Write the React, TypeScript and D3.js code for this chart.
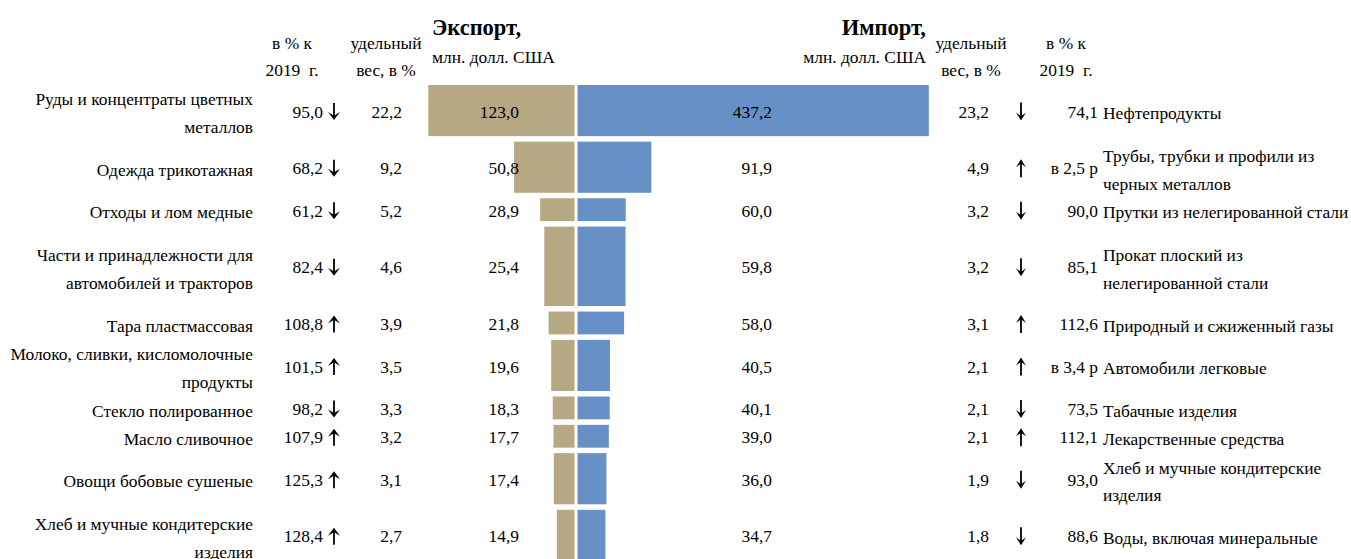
import { useEffect, useRef } from "react"
import * as d3 from "d3"

const exportNames = [
  "Руды и концентраты цветных\nметаллов",
  "Одежда трикотажная",
  "Отходы и лом медные",
  "Части и принадлежности для\nавтомобилей и тракторов",
  "Тара пластмассовая",
  "Молоко, сливки, кисломолочные\nпродукты",
  "Стекло полированное",
  "Масло сливочное",
  "Овощи бобовые сушеные",
  "Хлеб и мучные кондитерские\nизделия",
]
const exportPct = ["95,0", "68,2", "61,2", "82,4", "108,8", "101,5", "98,2", "107,9", "125,3", "128,4"]
const exportTrend = ["down", "down", "down", "down", "up", "up", "down", "up", "up", "up"]
const exportShare = [22.2, 9.2, 5.2, 4.6, 3.9, 3.5, 3.3, 3.2, 3.1, 2.7]
const exportValue = [123.0, 50.8, 28.9, 25.4, 21.8, 19.6, 18.3, 17.7, 17.4, 14.9]

const importNames = [
  "Нефтепродукты",
  "Трубы, трубки и профили из\nчерных металлов",
  "Прутки из нелегированной стали",
  "Прокат плоский из\nнелегированной стали",
  "Природный и сжиженный газы",
  "Автомобили легковые",
  "Табачные изделия",
  "Лекарственные средства",
  "Хлеб и мучные кондитерские\nизделия",
  "Воды, включая минеральные",
]
const importValue = [437.2, 91.9, 60.0, 59.8, 58.0, 40.5, 40.1, 39.0, 36.0, 34.7]
const importShare = [23.2, 4.9, 3.2, 3.2, 3.1, 2.1, 2.1, 2.1, 1.9, 1.8]
const importTrend = ["down", "up", "down", "down", "up", "up", "down", "up", "down", "down"]
const importPct = ["74,1", "в 2,5 р", "90,0", "85,1", "112,6", "в 3,4 р", "73,5", "112,1", "93,0", "88,6"]

// row height in table "units" (layout only)
const rowUnits = [2, 2, 1, 3, 1, 2, 1, 1, 2, 2]

const FONT = "'Liberation Serif', 'Times New Roman', serif"
const EXPORT_COLOR = "#b5a882"
const IMPORT_COLOR = "#6690c6"

const fmt = (v: number) => v.toFixed(1).replace(".", ",")

export default function App() {
  const svgRef = useRef<SVGSVGElement>(null)

  useEffect(() => {
    if (!svgRef.current) return
    const svg = d3.select(svgRef.current)
    svg.selectAll("*").remove()

    const width = 1351
    const height = 559
    const top = 85
    const unit = 28.32
    const gap = 5.5

    const totalUnits = d3.sum(rowUnits)
    const y = d3.scaleLinear().domain([0, totalUnits]).range([top, top + totalUnits * unit])
    const starts = rowUnits.map((_, i) => d3.sum(rowUnits.slice(0, i)))
    const rowTop = (i: number) => y(starts[i])
    const rowH = (i: number) => y(starts[i] + rowUnits[i]) - y(starts[i]) - gap
    const rowMid = (i: number) => rowTop(i) + rowH(i) / 2

    const xExp = d3.scaleLinear().domain([0, d3.max(exportValue)!]).range([574.5, 428.3])
    const xImp = d3.scaleLinear().domain([0, d3.max(importValue)!]).range([577.5, 928.8])

    svg.attr("width", width).attr("height", height)

    const g = svg.append("g")

    const text = (x: number, yy: number, s: string, anchor: string, size = 17.4, weight = "normal") =>
      g.append("text")
        .attr("x", x)
        .attr("y", yy)
        .attr("dy", "0.35em")
        .attr("text-anchor", anchor)
        .style("font-family", FONT)
        .style("font-size", `${size}px`)
        .style("font-weight", weight)
        .style("white-space", "pre")
        .style("fill", "#000")
        .text(s)

    const multi = (x: number, cy: number, s: string, anchor: string) => {
      const lines = s.split("\n")
      const lh = 27.5
      lines.forEach((l, k) => {
        text(x, cy + (k - (lines.length - 1) / 2) * lh, l, anchor)
      })
    }

    // arrow glyph: stem + filled head
    const arrow = (cx: number, cy: number, dir: string, w: number, h: number) => {
      const s = dir === "up" ? -1 : 1
      const tip = cy + s * h / 2
      const hh = 8
      const a = g.append("g")
      a.append("line")
        .attr("x1", cx).attr("x2", cx)
        .attr("y1", cy - s * h / 2).attr("y2", tip - s * 3)
        .attr("stroke", "#000").attr("stroke-width", 1.8)
      a.append("path")
        .attr("d", `M${cx},${tip} L${cx - w / 2},${tip - s * hh} L${cx},${tip - s * hh * 0.55} L${cx + w / 2},${tip - s * hh} Z`)
        .attr("fill", "#000")
    }

    // headers
    text(292, 43, "в % к", "middle")
    text(292, 70, "2019  г.", "middle")
    text(386, 43, "удельный", "middle")
    text(386, 70, "вес, в %", "middle")
    text(432, 27, "Экспорт,", "start", 22.5, "bold")
    text(432, 57, "млн. долл. США", "start")

    text(926, 27, "Импорт,", "end", 22.5, "bold")
    text(926, 57, "млн. долл. США", "end")
    text(971, 43, "удельный", "middle")
    text(971, 70, "вес, в %", "middle")
    text(1066, 43, "в % к", "middle")
    text(1066, 70, "2019  г.", "middle")

    // bars
    g.selectAll("rect.exp")
      .data(exportValue)
      .join("rect")
      .attr("class", "exp")
      .attr("x", d => xExp(d))
      .attr("y", (_, i) => rowTop(i))
      .attr("width", d => xExp(0) - xExp(d))
      .attr("height", (_, i) => rowH(i))
      .attr("fill", EXPORT_COLOR)

    g.selectAll("rect.imp")
      .data(importValue)
      .join("rect")
      .attr("class", "imp")
      .attr("x", xImp(0))
      .attr("y", (_, i) => rowTop(i))
      .attr("width", d => xImp(d) - xImp(0))
      .attr("height", (_, i) => rowH(i))
      .attr("fill", IMPORT_COLOR)

    exportNames.forEach((name, i) => {
      const cy = rowMid(i)
      multi(253, cy + 2.5, name, "end")
      text(323, cy + 1, exportPct[i], "end")
      arrow(334, cy + 1, exportTrend[i], 12, 17)
      text(402, cy + 1, fmt(exportShare[i]), "end")
      text(519, cy + 1, fmt(exportValue[i]), "end")

      text(772, cy + 1, fmt(importValue[i]), "end")
      text(989, cy + 1, fmt(importShare[i]), "end")
      arrow(1021, cy + 1, importTrend[i], 10, 18)
      text(1098, cy + 1, importPct[i], "end")
      multi(1103, cy + 2.5, importNames[i], "start")
    })
  }, [])

  return (
    <div style={{ position: "absolute", left: 0, top: 0, width: 1351, height: 559, background: "#fff" }}>
      <svg ref={svgRef} />
    </div>
  )
}
